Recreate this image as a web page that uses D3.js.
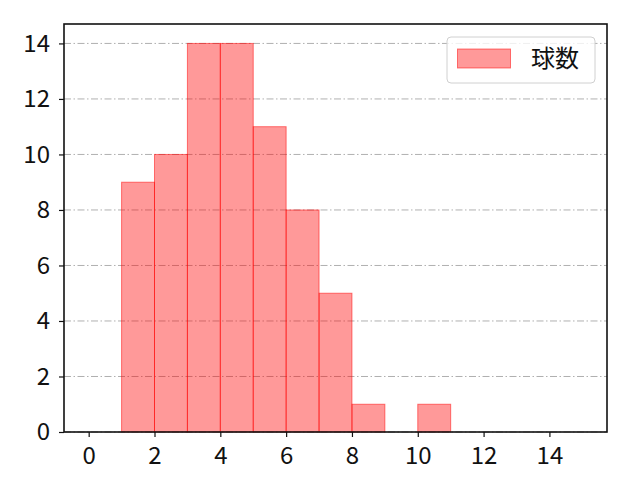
<!DOCTYPE html>
<html>
<head>
<meta charset="utf-8">
<script src="https://cdn.jsdelivr.net/npm/d3@7"></script>
<style>
  body { margin: 0; background: #fff; }
  text { font-family: "Noto Sans CJK JP", "Noto Sans", sans-serif; }
</style>
</head>
<body>
<div id="chart"></div>
<script>
// histogram bins (left edge, right edge) and counts
const binStarts = [1, 2, 3, 4, 5, 6, 7, 8, 9, 10];
const binEnds = [2, 3, 4, 5, 6, 7, 8, 9, 10, 11];
const counts = [9, 10, 14, 14, 11, 8, 5, 1, 0, 1];
const xTicks = [0, 2, 4, 6, 8, 10, 12, 14];
const yTicks = [0, 2, 4, 6, 8, 10, 12, 14];
const seriesName = "球数";

const margin = {top: 24, right: 33, bottom: 48, left: 64},
    width = 640 - margin.left - margin.right,
    height = 480 - margin.top - margin.bottom;

const bins = binStarts.map((s, i) => ({x0: s, x1: binEnds[i], count: counts[i]}));

const x = d3.scaleLinear()
    .domain([-0.75, 15.75])
    .range([0, width]);
const y = d3.scaleLinear()
    .domain([0, 14.7])
    .range([height, 0]);

const svg = d3.select("#chart")
    .append("svg")
    .attr("width", 640)
    .attr("height", 480)
    .append("g")
    .attr("transform", "translate(" + margin.left + "," + margin.top + ")");

// grid
svg.append("g")
    .selectAll("line")
    .data(yTicks)
    .enter().append("line")
    .attr("x1", 0)
    .attr("x2", width)
    .attr("y1", d => y(d))
    .attr("y2", d => y(d))
    .style("stroke", "#b0b0b0")
    .style("stroke-width", 1)
    .style("stroke-dasharray", "7,2.5,1.5,2.5");

// bars
svg.selectAll(".bar")
    .data(bins.filter(d => d.count > 0))
    .enter().append("rect")
    .attr("class", "bar")
    .attr("x", d => x(d.x0))
    .attr("width", d => x(d.x1) - x(d.x0))
    .attr("y", d => y(d.count))
    .attr("height", d => y(0) - y(d.count))
    .style("fill", "#ff0000")
    .style("fill-opacity", 0.4)
    .style("stroke", "#ff0000")
    .style("stroke-opacity", 0.5)
    .style("stroke-width", 1);

// axes
const xAxis = svg.append("g")
    .attr("transform", "translate(0," + height + ")")
    .call(d3.axisBottom(x).tickValues(xTicks).tickSize(5).tickPadding(10));
const yAxis = svg.append("g")
    .call(d3.axisLeft(y).tickValues(yTicks).tickSize(5).tickPadding(9));

[xAxis, yAxis].forEach(a => {
    a.select(".domain").remove();
    a.selectAll("line").style("stroke", "#111").style("stroke-width", 1.2);
    a.selectAll("text")
        .style("font-size", "24px")
        .style("fill", "#111")
        .style("font-family", "'Noto Sans CJK JP', sans-serif");
});

// frame
svg.append("rect")
    .attr("x", 0)
    .attr("y", 0)
    .attr("width", width)
    .attr("height", height)
    .style("fill", "none")
    .style("stroke", "#111")
    .style("stroke-width", 1.6);

// legend
const legend = svg.append("g")
    .attr("transform", "translate(" + (width - 160) + ",13)");
legend.append("rect")
    .attr("x", 0)
    .attr("y", 0)
    .attr("width", 148)
    .attr("height", 46)
    .attr("rx", 4)
    .style("fill", "#fff")
    .style("fill-opacity", 0.8)
    .style("stroke", "#d0d0d0")
    .style("stroke-width", 1);
legend.append("rect")
    .attr("x", 10.5)
    .attr("y", 12)
    .attr("width", 53)
    .attr("height", 19)
    .style("fill", "#ff0000")
    .style("fill-opacity", 0.4)
    .style("stroke", "#ff0000")
    .style("stroke-opacity", 0.5);
legend.append("text")
    .attr("x", 84)
    .attr("y", 22)
    .attr("dy", "0.35em")
    .style("font-size", "24px")
    .style("fill", "#111")
    .text(seriesName);
</script>
</body>
</html>
